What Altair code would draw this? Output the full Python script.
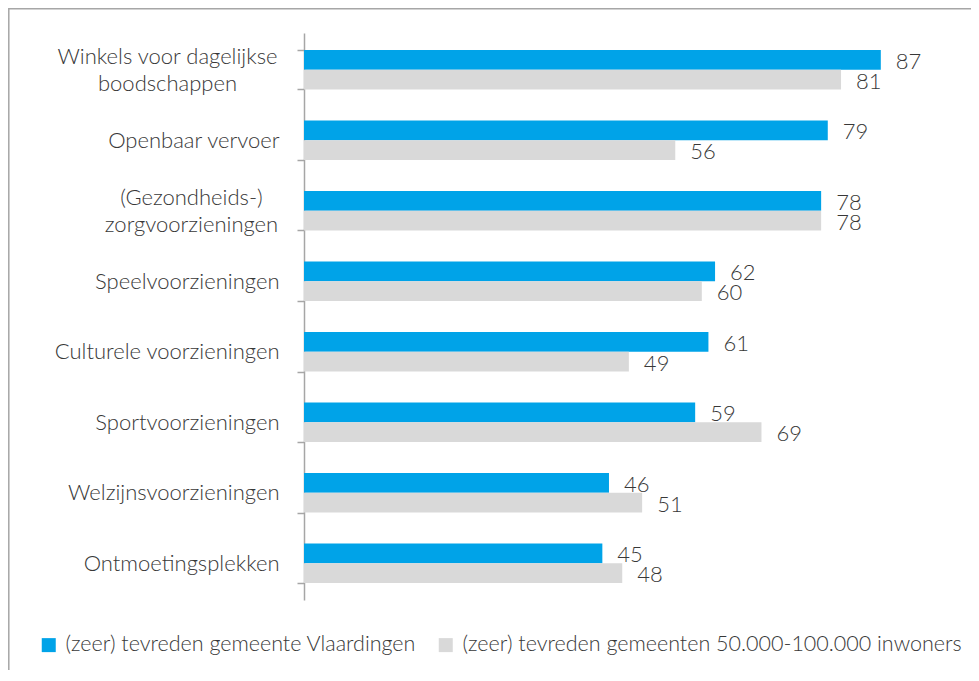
import altair as alt
import pandas as pd

categories = [
    "Winkels voor dagelijkse\nboodschappen",
    "Openbaar vervoer",
    "(Gezondheids-)\nzorgvoorzieningen",
    "Speelvoorzieningen",
    "Culturele voorzieningen",
    "Sportvoorzieningen",
    "Welzijnsvoorzieningen",
    "Ontmoetingsplekken",
]
series = [
    "(zeer) tevreden gemeente Vlaardingen",
    "(zeer) tevreden gemeenten 50.000-100.000 inwoners",
]
vlaardingen = [87, 79, 78, 62, 61, 59, 46, 45]
gemeenten = [81, 56, 78, 60, 49, 69, 51, 48]
colors = ["#00A3E8", "#D9D9D9"]

rows = []
for c, a, b in zip(categories, vlaardingen, gemeenten):
    rows.append({"cat": c, "serie": series[0], "val": a})
    rows.append({"cat": c, "serie": series[1], "val": b})
df = pd.DataFrame(rows)

FONT = "Lato"
TXT = "#383838"
FS = 22
FW = 300
W, H = 663, 567

multi = "isString(datum.value) && indexof(datum.value, '\\n') >= 0"
t_win = "isString(datum.value) && indexof(datum.value, 'Winkels') >= 0"
t_gez = "isString(datum.value) && indexof(datum.value, 'Gezondheids') >= 0"
y_enc = alt.Y("cat:N", sort=categories, title=None,
              scale=alt.Scale(paddingInner=0.44, paddingOuter=0.24),
              axis=alt.Axis(labelExpr="isString(datum.label) ? split(datum.label, '\\n') : ''",
                            labelFontSize=FS, labelFontWeight=FW,
                            labelFont=FONT, labelColor=TXT, labelLineHeight=27,
                            labelAlign={"condition": {"test": multi, "value": "center"}, "value": "right"},
                            labelPadding={"condition": [
                                {"test": t_win, "value": 130},
                                {"test": t_gez, "value": 106},
                            ], "value": 18},
                            labelOffset={"condition": {"test": multi, "value": -13}, "value": 0},
                            tickBand="extent", tickSize=7,
                            tickColor="#A6A6A6", domainColor="#A6A6A6",
                            domainWidth=1.5, tickWidth=1.5, labelLimit=400))
x_enc = alt.X("val:Q", scale=alt.Scale(domain=[0, 100], nice=False), axis=None)
yoff = alt.YOffset("serie:N", sort=series)

base = alt.Chart(df)
bars = base.mark_bar().encode(
    y=y_enc, x=x_enc, yOffset=yoff,
    color=alt.Color("serie:N", sort=series,
                    scale=alt.Scale(domain=series, range=colors),
                    legend=alt.Legend(title=None, orient="none", legendX=-266, legendY=601,
                                      direction="horizontal", symbolType="square",
                                      symbolSize=196, symbolStrokeWidth=0,
                                      labelFontSize=21.5, labelFontWeight=FW,
                                      labelFont=FONT, labelColor=TXT,
                                      columnPadding=18, labelOffset=6, labelLimit=600)),
)
labels = base.mark_text(align="left", baseline="middle", dx=15, dy=2,
                        fontSize=FS, fontWeight=FW, font=FONT, color=TXT).encode(
    y=alt.Y("cat:N", sort=categories), x="val:Q", yOffset=yoff, text="val:Q")

frame = alt.Chart(pd.DataFrame({"a": [0]})).mark_rect(
    fill=None, stroke="#A6A6A6", strokeWidth=1.5).encode(
    x=alt.value(-295.2), x2=alt.value(2000), y=alt.value(-24.2), y2=alt.value(2000))

chart = alt.layer(frame, bars, labels).properties(
    width=W, height=H,
    autosize=alt.AutoSizeParams(type="none"),
    padding={"left": 296, "top": 25, "right": 4, "bottom": 70},
).configure_view(stroke=None)

chart.save("out.html", embed_options={"renderer": "svg", "actions": False})
